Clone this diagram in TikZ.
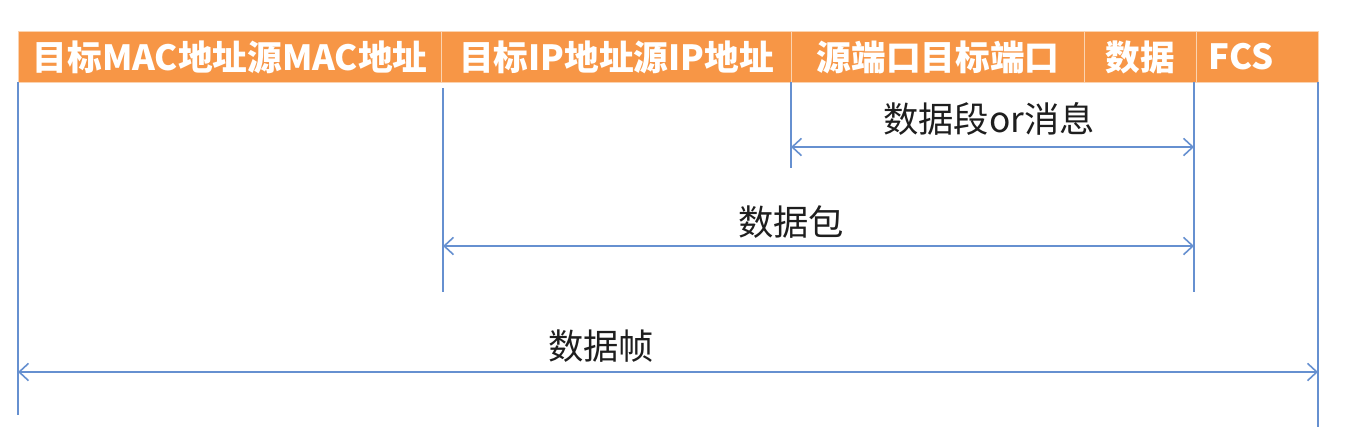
\documentclass[tikz,border=0pt]{standalone}
\usepackage{fontspec}
\setmainfont{Noto Sans CJK SC}
\usetikzlibrary{arrows.meta}
\definecolor{hdr}{HTML}{F79646}
\definecolor{sep}{HTML}{FBD3B0}
\definecolor{ln}{HTML}{6690D0}
\definecolor{txt}{HTML}{1E1E1E}
\begin{document}
\begin{tikzpicture}[x=0.75pt,y=-0.75pt,
  cell/.style={fill=hdr, draw=sep, line width=0.8pt, anchor=north west, inner sep=0pt,
    minimum height=38.25pt, text=white, font=\fontsize{26}{26}\selectfont\bfseries},
  vline/.style={draw=ln, line width=1.5pt},
  span/.style={draw=ln, line width=1.5pt, {Straight Barb[length=7pt,width=13pt,line width=1.2pt]}-{Straight Barb[length=7pt,width=13pt,line width=1.2pt]}},
  lbl/.style={text=txt, font=\fontsize{26.5}{26.5}\selectfont, inner sep=0pt}]
\useasboundingbox (0,0) rectangle (1352,437);
% header cells
\node[cell, minimum width=317.25pt] (c1) at (18,31) {目标MAC地址源MAC地址};
\node[cell, minimum width=262.5pt] (c2) at (441,31) {目标IP地址源IP地址};
\node[cell, minimum width=219.75pt] (c3) at (791,31) {源端口目标端口};
\node[cell, minimum width=84pt] (c4) at (1084,31) {数据};
\node[cell, minimum width=91.5pt, text width=73.5pt, align=left, inner xsep=9pt] (c5) at (1196,31) {FCS};
% vertical guide lines
\coordinate (v1t) at (18,82);   \coordinate (v1b) at (18,415);
\coordinate (v2t) at (443,88);  \coordinate (v2b) at (443,292);
\coordinate (v3t) at (791,82);  \coordinate (v3b) at (791,168);
\coordinate (v4t) at (1194,82); \coordinate (v4b) at (1194,292);
\coordinate (v5t) at (1318,82); \coordinate (v5b) at (1318,427);
\draw[vline] (v1t) -- (v1b);
\draw[vline] (v2t) -- (v2b);
\draw[vline] (v3t) -- (v3b);
\draw[vline] (v4t) -- (v4b);
\draw[vline] (v5t) -- (v5b);
% spans
\coordinate (s1l) at (791,147);  \coordinate (s1r) at (1194,147);
\coordinate (s2l) at (443,246);  \coordinate (s2r) at (1194,246);
\coordinate (s3l) at (18,372);   \coordinate (s3r) at (1318,372);
\draw[span] (s1l) -- (s1r);
\draw[span] (s2l) -- (s2r);
\draw[span] (s3l) -- (s3r);
% labels
\node[lbl] (l1) at (989,119) {数据段or消息};
\node[lbl] (l2) at (791,222) {数据包};
\node[lbl] (l3) at (601,346) {数据帧};
\end{tikzpicture}
\end{document}
